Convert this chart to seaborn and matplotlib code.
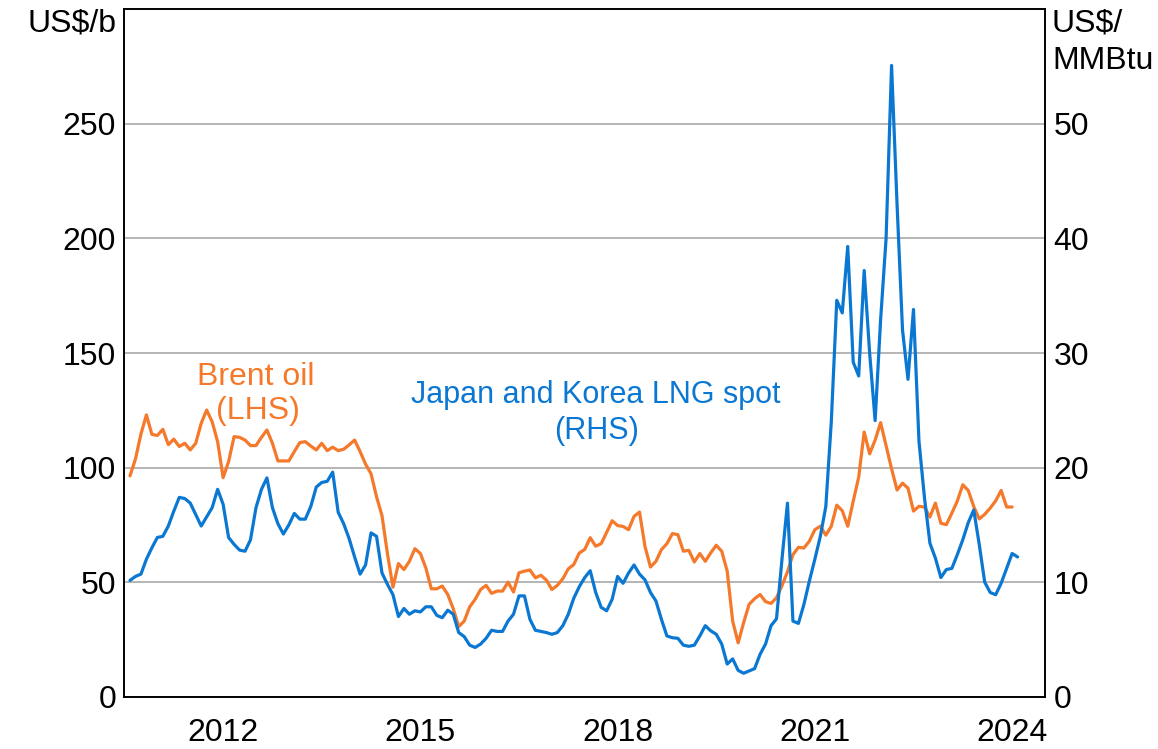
import numpy as np
import pandas as pd
import seaborn as sns
import matplotlib.pyplot as plt

# monthly averages, first month Jan 2011
start_year = 2011

# Brent oil, US$/b (LHS), Jan 2011 - Jun 2024
brent = [96.4, 103.7, 114.6, 123.0, 114.5, 114.0, 116.7, 110.0, 112.4, 109.2, 110.6, 107.7,
         110.6, 119.3, 125.1, 120.0, 111.3, 95.6, 102.6, 113.5, 113.2, 112.0, 109.6, 109.6,
         113.2, 116.4, 110.6, 102.9, 102.9, 102.9, 107.0, 110.9, 111.3, 109.4, 107.7, 110.6,
         107.4, 108.9, 107.4, 108.0, 109.9, 112.0, 107.0, 101.5, 97.3, 87.3, 79.0, 62.3,
         47.8, 58.1, 55.5, 59.1, 64.6, 62.5, 56.2, 47.1, 47.1, 48.3, 44.6, 38.4,
         30.6, 33.0, 39.2, 42.5, 46.8, 48.6, 45.1, 46.1, 46.1, 50.0, 45.7, 54.1,
         54.8, 55.3, 51.9, 53.0, 50.9, 46.8, 48.6, 51.5, 55.8, 57.7, 62.7, 64.3,
         69.4, 65.7, 66.8, 71.7, 76.8, 74.7, 74.3, 72.9, 78.7, 80.6, 65.5, 56.6,
         59.1, 64.2, 66.8, 71.2, 70.7, 63.5, 63.9, 58.8, 62.5, 59.1, 62.8, 66.1,
         63.5, 54.8, 33.0, 23.5, 32.3, 40.3, 42.8, 44.6, 41.5, 40.7, 43.2, 48.5,
         54.5, 62.0, 65.2, 64.9, 67.9, 72.9, 74.4, 70.5, 74.4, 83.6, 81.2, 74.4,
         85.3, 95.8, 115.5, 106.0, 112.0, 119.6, 109.5, 99.5, 90.2, 93.2, 91.0, 81.0,
         83.1, 82.8, 78.4, 84.5, 75.7, 75.1, 80.1, 85.4, 92.5, 90.0, 83.0, 77.6,
         79.6, 82.3, 85.5, 90.0, 82.8, 82.8]

# Japan and Korea LNG spot, US$/MMBtu (RHS), Jan 2011 - Jul 2024
lng = [10.15, 10.5, 10.7, 12.0, 13.0, 13.9, 14.0, 14.9, 16.2, 17.4, 17.3, 16.9,
       15.9, 14.9, 15.7, 16.5, 18.1, 16.8, 13.9, 13.3, 12.8, 12.7, 13.7, 16.5,
       18.1, 19.1, 16.5, 15.1, 14.2, 15.0, 16.0, 15.5, 15.5, 16.6, 18.3, 18.7,
       18.8, 19.6, 16.1, 15.1, 13.8, 12.2, 10.7, 11.5, 14.3, 14.0, 10.8, 9.8,
       8.9, 7.0, 7.7, 7.2, 7.5, 7.4, 7.85, 7.85, 7.1, 6.9, 7.55, 7.2,
       5.6, 5.25, 4.5, 4.3, 4.6, 5.1, 5.8, 5.7, 5.7, 6.6, 7.2, 8.8,
       8.8, 6.75, 5.8, 5.7, 5.6, 5.45, 5.6, 6.2, 7.2, 8.6, 9.6, 10.4,
       11.0, 9.1, 7.8, 7.5, 8.5, 10.5, 9.9, 10.8, 11.5, 10.7, 10.2, 9.1,
       8.35, 6.75, 5.3, 5.15, 5.1, 4.5, 4.4, 4.5, 5.3, 6.2, 5.75, 5.45,
       4.6, 2.85, 3.3, 2.3, 2.05, 2.25, 2.45, 3.7, 4.6, 6.2, 6.8, 12.0,
       16.9, 6.6, 6.4, 8.05, 10.1, 12.0, 14.0, 16.6, 24.0, 34.6, 33.5, 39.3,
       29.2, 28.0, 37.2, 30.0, 24.1, 32.9, 40.0, 55.1, 43.0, 32.0, 27.7, 33.8,
       22.3, 17.4, 13.4, 12.1, 10.4, 11.1, 11.2, 12.4, 13.7, 15.2, 16.3, 13.3,
       10.0, 9.1, 8.9, 9.9, 11.2, 12.5, 12.2]

label_years = [2012, 2015, 2018, 2021, 2024]

orange = '#F5792A'
blue = '#0A78D2'

# observations sit at the end of their month
def month_end(n):
    return start_year + np.arange(1, n + 1) / 12

df_brent = pd.DataFrame({'x': month_end(len(brent)), 'price': brent})
df_lng = pd.DataFrame({'x': month_end(len(lng)), 'price': lng})

sns.set_style('white')
plt.rcParams['font.family'] = ['Liberation Sans', 'DejaVu Sans']
plt.rcParams['text.color'] = 'black'
plt.rcParams['xtick.color'] = 'black'
plt.rcParams['ytick.color'] = 'black'
plt.rcParams['xtick.labelcolor'] = 'black'
plt.rcParams['ytick.labelcolor'] = 'black'

fig = plt.figure(figsize=(11.58, 7.49), dpi=100)
ax = fig.add_axes([0.1075, 0.0698, 0.7949, 0.9178])
ax2 = ax.twinx()

sns.lineplot(data=df_brent, x='x', y='price', ax=ax, color=orange, lw=2.3)
sns.lineplot(data=df_lng, x='x', y='price', ax=ax2, color=blue, lw=2.3)

ax.set_xlim(2011, 2025)
ax.set_ylim(0, 300)
ax2.set_ylim(0, 60)
ax.set_yticks(range(0, 300, 50))
ax2.set_yticks(range(0, 60, 10))
ax.set_xlabel('')
ax.set_ylabel('')
ax2.set_ylabel('')

ax.grid(axis='y', color='#b5b5b5', lw=1.4)
ax.grid(axis='x', visible=False)
ax2.grid(False)

# year ticks, labels centred within the year
ax.set_xticks(range(2012, 2025))
ax.set_xticklabels([''] * 13)
ax.set_xticks([y + 0.5 for y in label_years], minor=True)
ax.set_xticklabels([str(y) for y in label_years], minor=True)
ax.tick_params(axis='x', which='major', direction='in', length=9.5, width=1.1, color='black')
ax.tick_params(axis='x', which='minor', length=0, pad=15, labelsize=23, labelcolor='black')
ax.tick_params(axis='y', length=0, pad=6, labelsize=23, labelcolor='black')
ax2.tick_params(axis='y', length=0, pad=6, labelsize=23, labelcolor='black')

for a in (ax, ax2):
    for s in a.spines.values():
        s.set_visible(True)
        s.set_color('black')
        s.set_linewidth(1.2)

fig.text(117 / 1158, 1 - 9 / 749, 'US$/b', ha='right', va='top', fontsize=23, color='black')
fig.text(1052 / 1158, 1 - 9 / 749, 'US$/\nMMBtu', ha='left', va='top', fontsize=23,
         linespacing=1.32, color='black')

ax.text(2013.0, 139.5, 'Brent oil', color=orange, fontsize=23, ha='center', va='center')
ax.text(2013.03, 124.7, '(LHS)', color=orange, fontsize=23, ha='center', va='center')
ax.text(2018.17, 131.7, 'Japan and Korea LNG spot', color=blue, fontsize=22,
        ha='center', va='center')
ax.text(2018.18, 116.0, '(RHS)', color=blue, fontsize=22, ha='center', va='center')

plt.savefig('out.png', dpi=100)
